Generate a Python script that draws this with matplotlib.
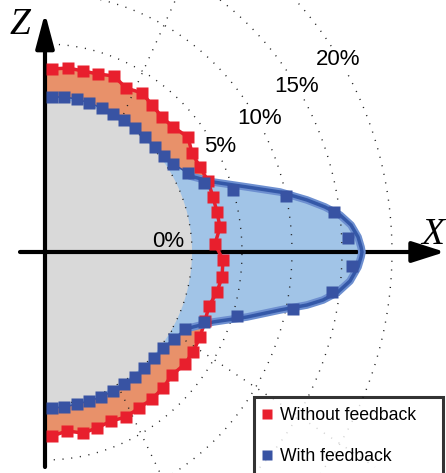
import numpy as np
import matplotlib
matplotlib.use("Agg")
import matplotlib.pyplot as plt
from matplotlib.lines import Line2D

plt.rcParams['font.family'] = ['Liberation Sans', 'DejaVu Sans']

# contour rings (x radius, z radius) and their labels
ring_labels = ['0%', '5%', '10%', '15%', '20%']
ring_rx = [147, 197, 247, 297, 347]
ring_rz = [153, 208, 259, 312, 364]
label_x = [123, 175, 215, 252, 293]
label_z = [11, 105, 133, 165, 192]

# dotted radial guide segments (start, end)
radial_x = [[75, 135], [72, 117], [126, 330]]
radial_z = [[130, 262], [-132, -225], [-79, -215]]

# without feedback (red squares)
red_x = [7, 23, 38, 53, 69, 81, 97, 107, 117, 128, 143, 147, 155, 163, 168, 172, 175,
         170, 178, 177, 172, 164, 160, 155, 148, 140, 127, 118, 107, 94, 81, 66, 52,
         38, 22, 7]
red_z = [183, 184, 181, 178, 176, 164, 159, 147, 135, 125, 115, 99, 85, 71, 55, 40, 25,
         8, -8, -25, -40, -54, -69, -85, -100, -112, -123, -136, -147, -156, -165, -169,
         -176, -181, -179, -184]

# with feedback (blue squares)
blue_x = [7, 19, 32, 44, 57, 68, 79, 90, 100, 110, 119, 128, 143, 159, 188, 241, 289,
          303, 307, 287, 248, 192, 159, 140, 129, 118, 109, 99, 90, 79, 68, 56, 44, 32,
          19, 7]
blue_z = [155, 155, 153, 149, 144, 138, 132, 124, 115, 105, 96, 88, 79, 69, 62, 56, 40,
          14, -14, -40, -57, -64, -70, -77, -87, -96, -106, -116, -125, -132, -139, -145,
          -149, -152, -155, -156]

# with feedback, fitted outline of the bulge
fit_x = [145, 168, 202, 235, 262, 280, 295, 306, 313, 316, 317, 316, 313, 305, 293, 278,
         262, 235, 202, 168, 140]
fit_z = [76, 70, 65, 60, 52, 45, 37, 27, 15, 5, 0, -5, -15, -29, -40, -48, -53, -58,
         -65, -70, -77]

red = '#e81f2d'
blue = '#3853a3'
orange = '#e8916a'
lightblue = '#a1c4e7'
gray = '#d9d9d9'

fig = plt.figure(figsize=(4.46, 4.73), dpi=100)
ax = fig.add_axes([0, 0, 1, 1])
ax.set_xlim(-45, 401)
ax.set_ylim(-221, 252)
ax.axis('off')

# orange area: inside red curve
ax.fill(np.r_[0, red_x, 0], np.r_[red_z[0], red_z, red_z[-1]], color=orange, lw=0, zorder=1)

# light blue area: inside feedback curve
top = [i for i in range(len(blue_x)) if blue_z[i] > 75]
bot = [i for i in range(len(blue_x)) if blue_z[i] < -75]
top_x = [blue_x[i] for i in top]
top_z = [blue_z[i] for i in top]
bot_x = [blue_x[i] for i in bot]
bot_z = [blue_z[i] for i in bot]
bx = np.r_[0, top_x, fit_x, bot_x, 0]
bz = np.r_[blue_z[0], top_z, fit_z, bot_z, blue_z[-1]]
ax.fill(bx, bz, color=lightblue, lw=0, zorder=2)

# gray area: 0% ring
t = np.linspace(-np.pi / 2, np.pi / 2, 300)
ax.fill(np.r_[ring_rx[0] * np.cos(t), 0], np.r_[ring_rz[0] * np.sin(t), ring_rz[0] * np.sin(t[0])],
        color=gray, lw=0, zorder=3)

# dotted rings and radial guides
for rx, rz in zip(ring_rx, ring_rz):
    ax.plot(rx * np.cos(t), rz * np.sin(t), color='#222222', lw=1.0,
            ls=(0, (0.8, 5.5)), zorder=4)
for xs, zs in zip(radial_x, radial_z):
    ax.plot(xs, zs, color='#222222', lw=1.0, ls=(0, (0.8, 5.5)), zorder=4)

for i, lab in enumerate(ring_labels):
    box = None if i == 0 else dict(facecolor='white', edgecolor='none', pad=1.5)
    ax.text(label_x[i], label_z[i], lab, fontsize=16, ha='center', va='center',
            bbox=box, zorder=5)

# axes arrows
ax.annotate('', xy=(0, 239), xytext=(0, -215),
            arrowprops=dict(arrowstyle='-|>,head_length=1.05,head_width=0.28',
                            mutation_scale=20, lw=3, color='black', shrinkA=0, shrinkB=0),
            zorder=6)
ax.annotate('', xy=(400, 0), xytext=(-25, 0),
            arrowprops=dict(arrowstyle='-|>,head_length=1.0,head_width=0.32',
                            mutation_scale=20, lw=3, color='black', shrinkA=0, shrinkB=0),
            zorder=6)
ax.text(-25, 227, 'Z', fontsize=27, family='Liberation Serif', style='italic',
        ha='center', va='center')
ax.text(388, 17, 'X', fontsize=27, family='Liberation Serif', style='italic',
        ha='center', va='center')

# curves and markers
ax.plot(red_x, red_z, color=red, lw=2.5, zorder=7)
ax.plot(top_x, top_z, color=blue, lw=1.2, zorder=7)
ax.plot(bot_x, bot_z, color=blue, lw=1.2, zorder=7)
ax.plot(fit_x, fit_z, color='#6d8fd0', lw=5.5, solid_capstyle='round',
        solid_joinstyle='round', zorder=7)
ax.plot(fit_x, fit_z, color='#3458a8', lw=2.5, solid_capstyle='round',
        solid_joinstyle='round', zorder=7)
ax.plot(red_x, red_z, 's', color=red, ms=8.5, mec='none', zorder=8)
ax.plot(blue_x, blue_z, 's', color=blue, ms=8, mec='none', zorder=8)

handles = [Line2D([], [], marker='s', ls='none', color=red, ms=7.5, mec='none'),
           Line2D([], [], marker='s', ls='none', color=blue, ms=7.5, mec='none')]
leg = ax.legend(handles, ['Without feedback', 'With feedback'], loc='upper left',
                bbox_to_anchor=(254 / 446, 1 - 470 / 473, 189 / 446, 73 / 473),
                mode='expand', fontsize=12.7, frameon=True, fancybox=False,
                borderpad=0.55, labelspacing=1.4, handlelength=0.4,
                handletextpad=0.55, borderaxespad=0)
leg.get_frame().set_edgecolor('black')
leg.get_frame().set_linewidth(2.2)
leg.set_zorder(9)

fig.savefig('out.png', dpi=100)
